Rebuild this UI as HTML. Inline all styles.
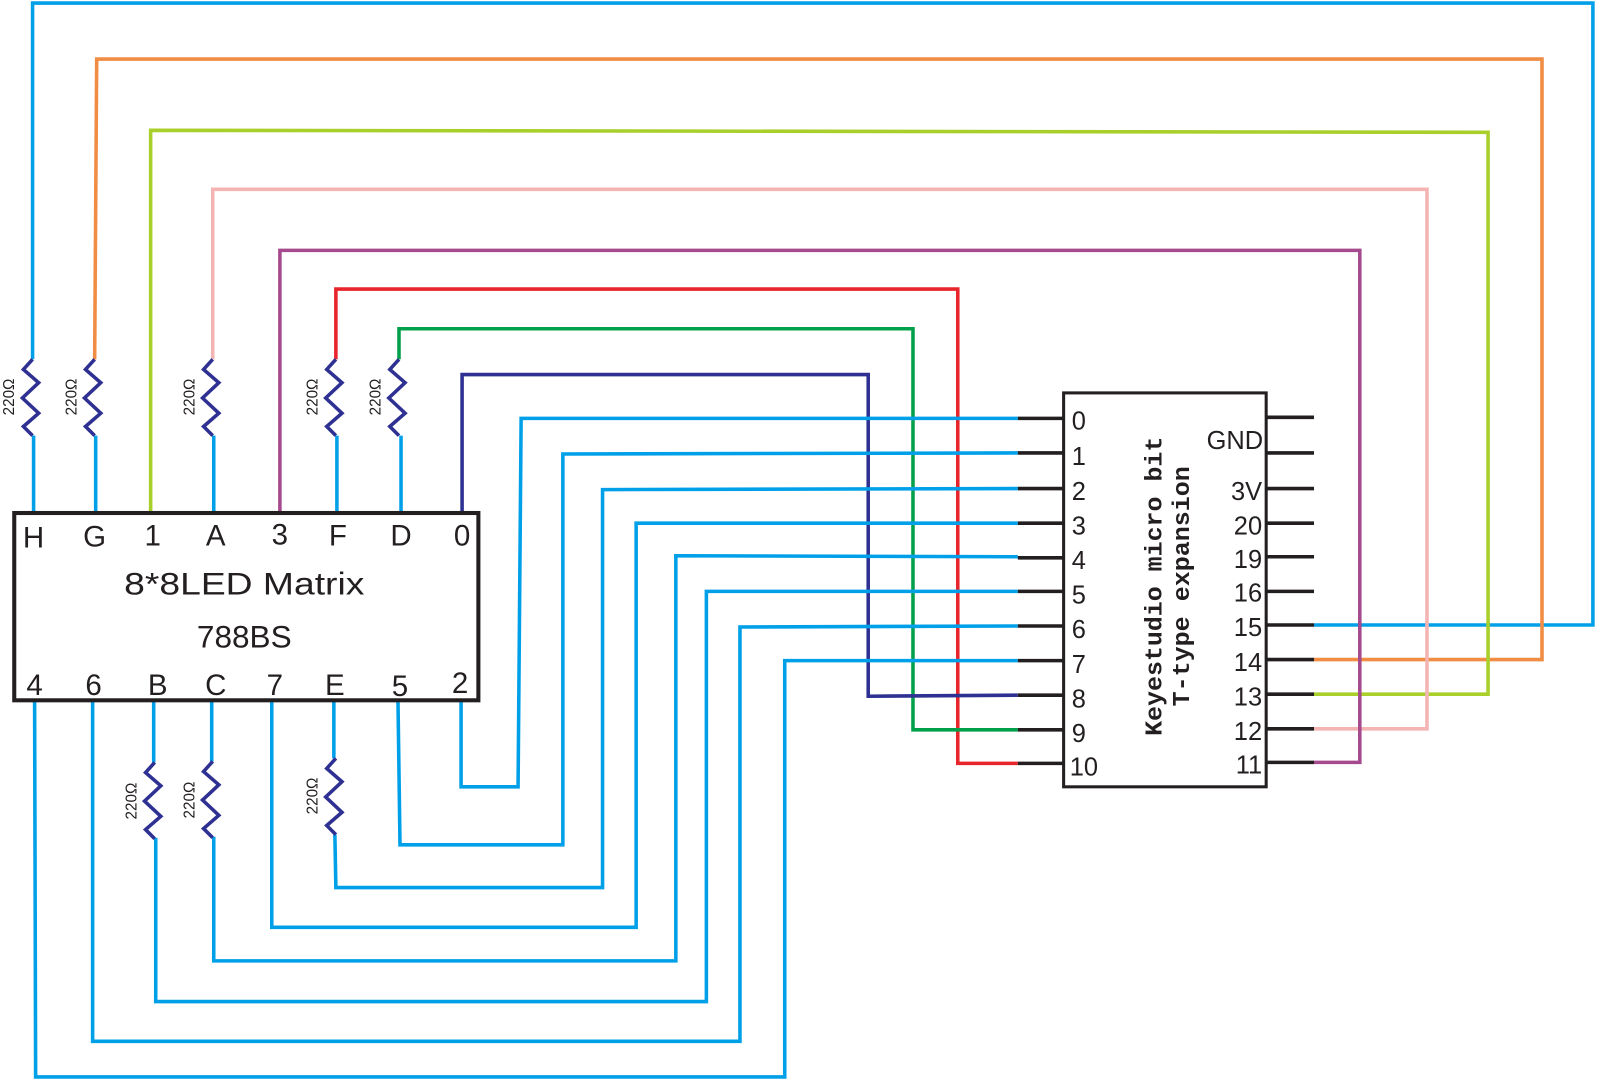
<!DOCTYPE html>
<html><head><meta charset="utf-8"><style>
html,body{margin:0;padding:0;background:#fff;}
svg{display:block;}
text{fill:#231f20;}
.s{font-family:"Liberation Sans",sans-serif;}
.m{font-family:"Liberation Mono",monospace;font-weight:bold;}
</style></head><body>
<svg width="1599" height="1082" viewBox="0 0 1571 1063" preserveAspectRatio="none" xmlns="http://www.w3.org/2000/svg">
<defs>
<g id="res"><polyline points="0,0 -9,10 6,23 -10,38 6,53 -9,66 0,75" fill="none" stroke="#2e3192" stroke-width="3.5"/></g>
</defs>
<g fill="none" stroke-width="3.5">
<polyline stroke="#00a0e9" points="33,503 33,428"/>
<polyline stroke="#00a0e9" points="32,353 32,3 1565,3 1565,614 1291,614"/>
<polyline stroke="#00a0e9" points="94,503 94,428"/>
<polyline stroke="#f08c44" points="93,353 95,58 1515,58 1515,648 1291,648"/>
<polyline stroke="#a8cf2a" points="148,503 148,128 1462,130 1462,682 1291,682"/>
<polyline stroke="#00a0e9" points="210,503 210,428"/>
<polyline stroke="#f4b4b4" points="209,353 209,186 1402,186 1402,716 1291,716"/>
<polyline stroke="#a54a8e" points="275,503 275,246 1336,246 1336,749 1291,749"/>
<polyline stroke="#00a0e9" points="331,503 331,428"/>
<polyline stroke="#e8252a" points="330,353 330,284 941,284 941,750 1000,750"/>
<polyline stroke="#00a0e9" points="394,503 394,428"/>
<polyline stroke="#00a04a" points="392,353 392,323 897,323 897,717 1000,717"/>
<polyline stroke="#2e3192" points="454,503 454,368 853,368 853,684 1000,683"/>
<polyline stroke="#00a0e9" points="453,688 453,773 509,773 512,411 1000,411"/>
<polyline stroke="#00a0e9" points="391,688 393,830 553,830 553,446 1000,445"/>
<polyline stroke="#00a0e9" points="328,688 328,745"/>
<polyline stroke="#00a0e9" points="329,820 330,872 592,872 592,481 1000,480"/>
<polyline stroke="#00a0e9" points="267,688 267,911 625,911 625,514 1000,514"/>
<polyline stroke="#00a0e9" points="208,688 208,748"/>
<polyline stroke="#00a0e9" points="210,822 210,944 664,944 664,546 1000,547"/>
<polyline stroke="#00a0e9" points="151,688 151,749"/>
<polyline stroke="#00a0e9" points="153,823 153,984 694,984 694,581 1000,581"/>
<polyline stroke="#00a0e9" points="91,688 91,1023 727,1023 727,616 1000,615"/>
<polyline stroke="#00a0e9" points="34,688 35,1058 771,1058 771,649 1000,649"/>
</g>
<use href="#res" x="32" y="353"/>
<use href="#res" x="93" y="353"/>
<use href="#res" x="209" y="353"/>
<use href="#res" x="330" y="353"/>
<use href="#res" x="392" y="353"/>
<use href="#res" x="152" y="749"/>
<use href="#res" x="209" y="748"/>
<use href="#res" x="330" y="745"/>
<g font-size="15" text-anchor="middle">
<text class="s" transform="translate(14,390) rotate(-90)">220Ω</text>
<text class="s" transform="translate(75,390) rotate(-90)">220Ω</text>
<text class="s" transform="translate(191,390) rotate(-90)">220Ω</text>
<text class="s" transform="translate(312,390) rotate(-90)">220Ω</text>
<text class="s" transform="translate(374,390) rotate(-90)">220Ω</text>
<text class="s" transform="translate(134,787) rotate(-90)">220Ω</text>
<text class="s" transform="translate(191,786) rotate(-90)">220Ω</text>
<text class="s" transform="translate(312,782) rotate(-90)">220Ω</text>
</g>
<rect x="14" y="504" width="456" height="184" fill="none" stroke="#231f20" stroke-width="4"/>
<g font-size="29" text-anchor="middle">
<text class="s" x="33" y="538">H</text><text class="s" x="93" y="537">G</text><text class="s" x="150" y="536">1</text><text class="s" x="212" y="536">A</text>
<text class="s" x="275" y="535">3</text><text class="s" x="332" y="536">F</text><text class="s" x="394" y="536">D</text><text class="s" x="454" y="536">0</text>
<text class="s" x="34" y="683">4</text><text class="s" x="92" y="683">6</text><text class="s" x="155" y="683">B</text><text class="s" x="212" y="683">C</text>
<text class="s" x="270" y="683">7</text><text class="s" x="329" y="683">E</text><text class="s" x="393" y="684">5</text><text class="s" x="452" y="681">2</text>
</g>
<text class="s" x="240" y="584" font-size="31" text-anchor="middle" textLength="236" lengthAdjust="spacingAndGlyphs">8*8LED Matrix</text>
<text class="s" x="240" y="636" font-size="31" text-anchor="middle">788BS</text>
<rect x="1045" y="386" width="199" height="387" fill="none" stroke="#231f20" stroke-width="3"/>
<g stroke="#231f20" stroke-width="3.5">
<line x1="1000" y1="411" x2="1045" y2="411"/><line x1="1000" y1="445" x2="1045" y2="445"/>
<line x1="1000" y1="480" x2="1045" y2="480"/><line x1="1000" y1="514" x2="1045" y2="514"/>
<line x1="1000" y1="548" x2="1045" y2="548"/><line x1="1000" y1="581" x2="1045" y2="581"/>
<line x1="1000" y1="615" x2="1045" y2="615"/><line x1="1000" y1="649" x2="1045" y2="649"/>
<line x1="1000" y1="683" x2="1045" y2="683"/><line x1="1000" y1="717" x2="1045" y2="717"/>
<line x1="1000" y1="750" x2="1045" y2="750"/>
<line x1="1244" y1="410" x2="1291" y2="410"/><line x1="1244" y1="445" x2="1291" y2="445"/>
<line x1="1244" y1="480" x2="1291" y2="480"/><line x1="1244" y1="514" x2="1291" y2="514"/>
<line x1="1244" y1="547" x2="1291" y2="547"/><line x1="1244" y1="581" x2="1291" y2="581"/>
<line x1="1244" y1="614" x2="1291" y2="614"/><line x1="1244" y1="648" x2="1291" y2="648"/>
<line x1="1244" y1="682" x2="1291" y2="682"/><line x1="1244" y1="716" x2="1291" y2="716"/>
<line x1="1244" y1="749" x2="1291" y2="749"/>
</g>
<g font-size="25">
<text class="s" x="1053" y="422">0</text><text class="s" x="1053" y="457">1</text><text class="s" x="1053" y="491">2</text>
<text class="s" x="1053" y="525">3</text><text class="s" x="1053" y="559">4</text><text class="s" x="1053" y="593">5</text>
<text class="s" x="1053" y="627">6</text><text class="s" x="1053" y="661">7</text><text class="s" x="1053" y="695">8</text>
<text class="s" x="1053" y="729">9</text><text class="s" x="1051" y="762">10</text>
</g>
<g font-size="25" text-anchor="end">
<text class="s" x="1241" y="441">GND</text><text class="s" x="1240" y="491">3V</text><text class="s" x="1240" y="525">20</text>
<text class="s" x="1240" y="558">19</text><text class="s" x="1240" y="591">16</text><text class="s" x="1240" y="625">15</text>
<text class="s" x="1240" y="659">14</text><text class="s" x="1240" y="693">13</text><text class="s" x="1240" y="727">12</text>
<text class="s" x="1240" y="760">11</text>
</g>
<g font-size="24" text-anchor="middle">
<text class="m" transform="translate(1141,576) rotate(-90)" textLength="294" lengthAdjust="spacingAndGlyphs">Keyestudio micro bit</text>
<text class="m" transform="translate(1168,576) rotate(-90)" textLength="236" lengthAdjust="spacingAndGlyphs">T-type expansion</text>
</g>
</svg>
</body></html>
